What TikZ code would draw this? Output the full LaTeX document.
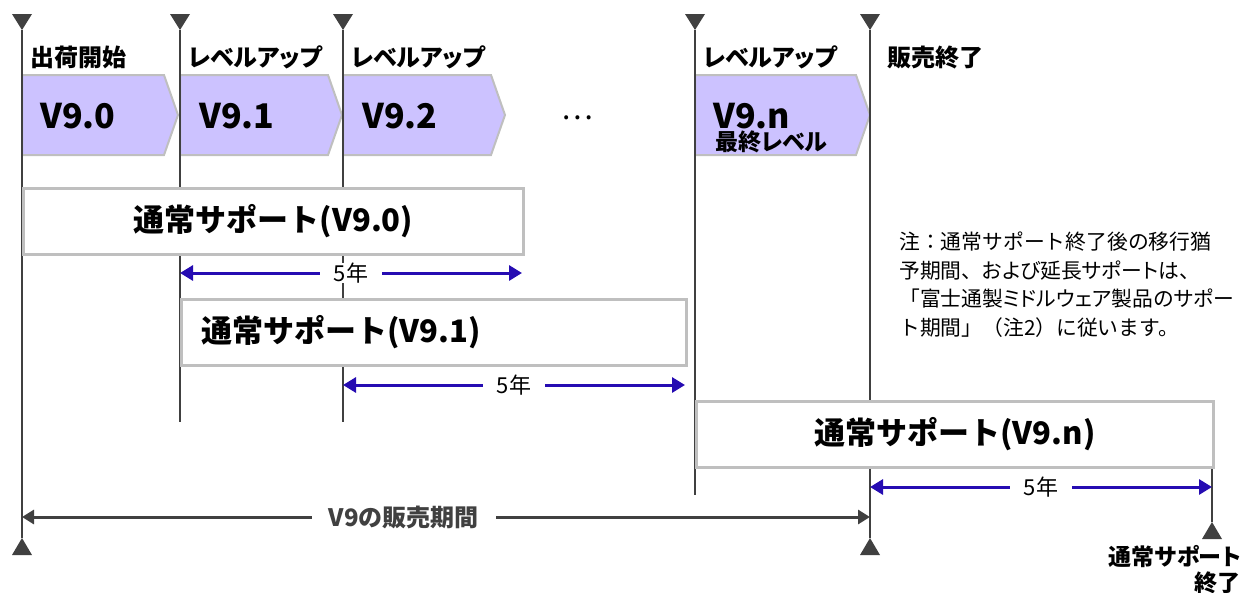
\documentclass[tikz,border=0pt]{standalone}
\usepackage{fontspec}
\setmainfont{Noto Sans CJK JP}
\usetikzlibrary{arrows.meta}
\definecolor{mylilac}{RGB}{204,194,255}
\definecolor{mygrayi}{RGB}{191,191,191}
\definecolor{mygrayii}{RGB}{64,64,64}
\definecolor{myblue}{RGB}{38,12,178}
\newcommand\pkana{\addfontfeature{RawFeature=+palt}}

\begin{document}
\begin{tikzpicture}[x=1pt,y=-1pt,
vline/.style={draw=mygrayii,line width=2pt},
chev/.style={draw=mygrayi,line width=2pt,fill=mylilac},
toplab/.style={anchor=base west,inner sep=0pt,
  font={\fontsize{24}{28}\bfseries\pkana\selectfont}},
ver/.style={anchor=base west,inner sep=0pt,
  font={\fontsize{34}{38}\bfseries\selectfont}},
supbox/.style={draw=mygrayi,line width=3pt,fill=white,anchor=north west,
  minimum height=66pt,inner xsep=0pt,align=center,
  font={\fontsize{31}{36}\bfseries\selectfont}},
yrarrow/.style={draw=myblue,line width=3pt,
  arrows={Triangle[length=13pt,width=15pt]-Triangle[length=13pt,width=15pt]}},
yrlab/.style={fill=white,text=black,inner xsep=14pt,inner ysep=0pt,
  font={\fontsize{22}{26}\selectfont}},
salearrow/.style={draw=mygrayii,line width=3pt,
  arrows={Triangle[length=12pt,width=14pt]-Triangle[length=12pt,width=14pt]}},
salelab/.style={fill=white,text=mygrayii,inner xsep=17pt,inner ysep=0pt,
  font={\fontsize{24}{28}\bfseries\selectfont}},
]
\useasboundingbox (0,0) rectangle (1242,592);

% version chevrons
\foreach \xa/\xb in {22/178,180/342,343/505,695/870}
  \draw[chev] (\xa,75) -- (\xb-14,75) -- (\xb,115) -- (\xb-14,155) -- (\xa,155) -- cycle;

% time lines and marks
\foreach \x/\yb in {22/538,180/422,343/422,695/495,870/538}
  \draw[vline] (\x,30) -- (\x,\yb);
\draw[vline] (1212,468) -- (1212,522);
\foreach \x in {22,180,343,695,870}
  \fill[mygrayii] (\x,30) -- (\x-10,14) -- (\x+10,14) -- cycle;
\foreach \x/\yt in {22/538,870/538,1212/522}
  \fill[mygrayii] (\x,\yt) -- (\x-10,\yt+17) -- (\x+10,\yt+17) -- cycle;

\node[toplab] (Ship) at (30,66) {出荷開始};
\node[toplab] (Lv1) at (188,66) {レベルアップ};
\node[toplab] (Lv2) at (351,66) {レベルアップ};
\node[toplab] (Lvn) at (703,66) {レベルアップ};
\node[toplab] (End) at (887,66) {販売終了};

\node[ver] (V90) at (40,128) {V9.0};
\node[ver] (V91) at (199,128) {V9.1};
\node[ver] (V92) at (362,128) {V9.2};
\node[ver] (V9n) at (713,128) {V9.n};
\node[toplab,font={\fontsize{23}{26}\bfseries\pkana\selectfont}] (Last) at (715,150) {最終レベル};
\node[font={\fontsize{30}{34}\selectfont}] (Dots) at (577,118) {…};

% support periods
\node[supbox,text width=500pt] (S0) at (22,187) {通常サポート(V9.0)};
\node[supbox,text width=465pt,inner xsep=20pt,align=left] (S1) at (180,298) {通常サポート(V9.1)};
\node[supbox,text width=517pt] (Sn) at (695,400) {通常サポート(V9.n)};

\coordinate (A0s) at (180,273);
\coordinate (A0e) at (522,273);
\coordinate (A1s) at (343,385);
\coordinate (A1e) at (685,385);
\coordinate (Ans) at (870,487);
\coordinate (Ane) at (1212,487);
\draw[yrarrow] (A0s) -- node[yrlab] {5年} (A0e);
\draw[yrarrow] (A1s) -- node[yrlab] {5年} (A1e);
\draw[yrarrow] (Ans) -- node[yrlab] {5年} (Ane);

\coordinate (Ps) at (22,517);
\coordinate (Pe) at (870,517);
\draw[salearrow] (Ps) -- node[salelab,pos=0.45] {V9の販売期間} (Pe);

\node[anchor=north west,align=left,inner sep=0pt,
  font={\fontsize{20.8}{28.5}\selectfont}] (Note) at (899,232)
  {注：通常サポート終了後の移行猶\\予期間、{\pkana および}延長{\pkana サポート}は、\\
   「富士通製{\pkana ミドルウェア}製品の{\pkana サポー}\\ト期間」（注2）に従います。};
\node[anchor=north east,align=right,inner sep=0pt,
  font={\fontsize{23}{26}\bfseries\pkana\selectfont}] (SEnd) at (1241,545)
  {通常サポート\\終了};
\end{tikzpicture}
\end{document}
